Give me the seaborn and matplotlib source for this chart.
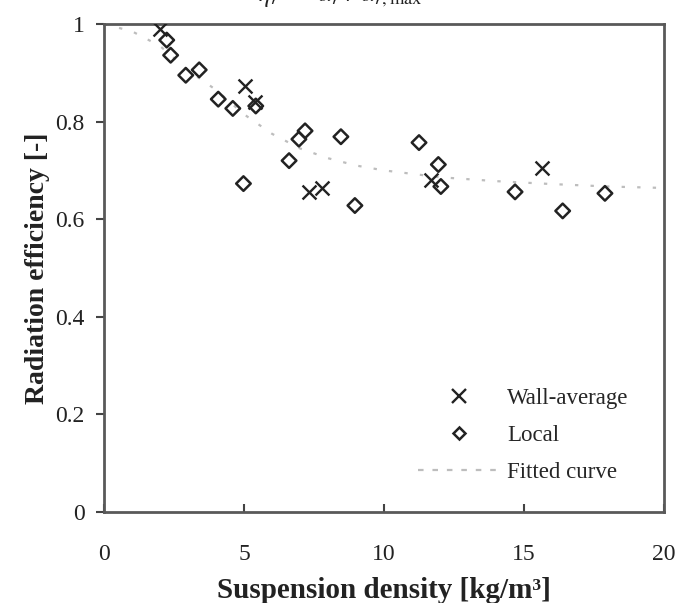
import pandas as pd
import seaborn as sns
import matplotlib.pyplot as plt
from matplotlib.lines import Line2D

# values
wall_x = [2.0, 5.04, 5.39, 7.32, 7.77, 11.68, 15.63]
wall_y = [0.989, 0.873, 0.841, 0.656, 0.663, 0.680, 0.704]

local_x = [2.24, 2.38, 2.92, 3.40, 4.08, 4.60, 5.42, 4.98, 6.61, 6.96, 7.18,
           8.46, 8.96, 11.25, 11.94, 12.03, 14.68, 16.38, 17.89]
local_y = [0.967, 0.936, 0.895, 0.906, 0.846, 0.827, 0.832, 0.673, 0.720, 0.764, 0.781,
           0.769, 0.628, 0.757, 0.712, 0.667, 0.656, 0.617, 0.653]

fit_x = [0, 1, 2, 3, 4, 5, 6, 7, 8, 9, 10, 12, 14, 16, 18, 20]
fit_y = [1.0, 0.985, 0.955, 0.905, 0.865, 0.815, 0.775, 0.745, 0.725, 0.71,
         0.70, 0.686, 0.678, 0.672, 0.667, 0.664]

wall = pd.DataFrame({'x': wall_x, 'y': wall_y})
local = pd.DataFrame({'x': local_x, 'y': local_y})
fit = pd.DataFrame({'x': fit_x, 'y': fit_y})

sns.set_style('ticks')
plt.rcParams['font.family'] = ['Liberation Serif', 'DejaVu Serif']
plt.rcParams['mathtext.fontset'] = 'stix'

fig = plt.figure(figsize=(6.78, 6.03), dpi=100)
ax = fig.add_axes([0.1534, 0.1509, 0.826, 0.8093])

fit_color = '#bdbdbd'
ink = '#222222'
sns.lineplot(data=fit, x='x', y='y', ax=ax, color=fit_color, lw=1.6,
             linestyle=(0, (1.5, 5.5)), zorder=1)
sns.scatterplot(data=local, x='x', y='y', ax=ax, marker='D', s=55,
                facecolor='none', edgecolor=ink, linewidth=1.8, zorder=3)
sns.scatterplot(data=wall, x='x', y='y', ax=ax, marker='x', s=100,
                color=ink, linewidth=1.7, zorder=4)

ax.set_xlim(0, 20)
ax.set_ylim(0, 1)
ax.set_xticks([0, 5, 10, 15, 20])
ax.set_yticks([0, 0.2, 0.4, 0.6, 0.8, 1.0])
ax.set_yticklabels(['0', '0.2', '0.4', '0.6', '0.8', '1'])
ax.tick_params(axis='x', direction='in', length=6, width=1.5, colors='#444444',
               labelsize=17, labelcolor=ink, pad=23)
ax.tick_params(axis='y', direction='out', length=6, width=1.5, colors='#444444',
               labelsize=17, labelcolor=ink, pad=8)
for sp in ax.spines.values():
    sp.set_visible(True)
    sp.set_color('#595959')
    sp.set_linewidth(2)

ax.set_xlabel('Suspension density [kg/m³]', fontsize=21, fontweight='bold',
              color=ink, labelpad=9)
ax.set_ylabel('Radiation efficiency [-]', fontsize=20, fontweight='bold',
              color=ink, labelpad=4)

handles = [
    Line2D([], [], marker='x', color=ink, lw=0, markersize=10, markeredgewidth=1.7),
    Line2D([], [], marker='D', color=ink, lw=0, markersize=6.5,
           markerfacecolor='none', markeredgewidth=1.8),
    Line2D([], [], color=fit_color, lw=1.6, linestyle=(0, (2.5, 4))),
]
ax.legend(handles, ['Wall-average', 'Local', 'Fitted curve'], loc='upper left',
          bbox_to_anchor=(0.56, 0.255), frameon=False, fontsize=16.5,
          borderpad=0, borderaxespad=0, handlelength=3.6, labelspacing=0.7,
          handletextpad=0.3)

# title cut off at top of the source image
fig.text(0.502, 1 - 1 / 603, r'$\eta_r\ =\ \alpha_r\ /\ \alpha_{r,\max}$',
         ha='center', va='baseline', fontsize=19, color=ink)

fig.savefig('out.png', dpi=100)
